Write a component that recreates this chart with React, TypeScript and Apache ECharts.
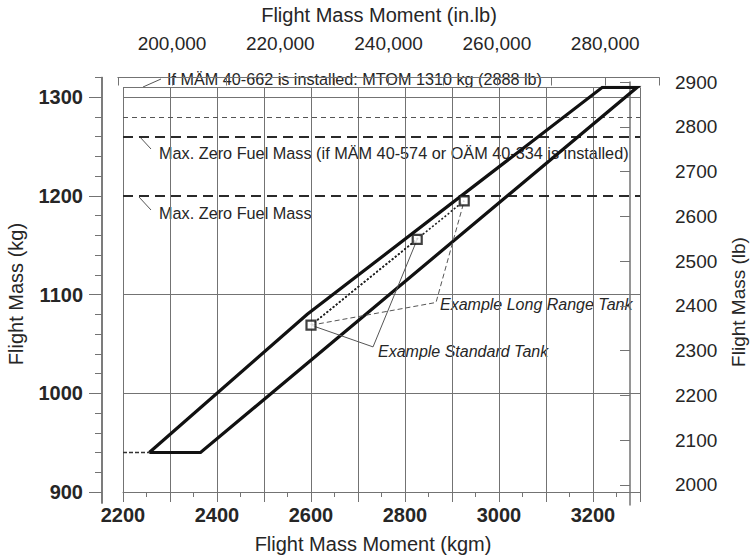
import React, { useEffect, useRef } from "react";
import * as echarts from "echarts";

// ---- data (kg, kg·m) ----
const envelopeMoment = [2256, 2365, 3294, 3220, 2592, 2256];
const envelopeMass = [940, 940, 1310, 1310, 1080, 940];
const exampleMoment = [2600, 2826, 2926];
const exampleMass = [1069, 1156, 1195];
const standardLeaderMoment = [2600, 2732, 2826];
const standardLeaderMass = [1069, 1047, 1156];
const longRangeLeaderMoment = [2600, 2866, 2926];
const longRangeLeaderMass = [1069, 1092, 1195];
const minMassMoment = [2200, 2256];
const minMassMass = [940, 940];
const solidGridMass = [1000, 1100, 1300, 1310];
const zeroFuelMass = [1200, 1260];
const altMtomMass = [1280];

// ---- tick labels ----
const kgmLabels = [2200, 2400, 2600, 2800, 3000, 3200];
const kgMajor = [900, 1000, 1100, 1200, 1300];
const kgMinor = [920, 940, 960, 980, 1020, 1040, 1060, 1080, 1120, 1140, 1160, 1180, 1220, 1240, 1260, 1280, 1320];
const lbTicks = [2000, 2100, 2200, 2300, 2400, 2500, 2600, 2700, 2800, 2900];
const inlbLabels = [200000, 220000, 240000, 260000, 280000];

const FONT = "'Liberation Sans', Arial, Helvetica, sans-serif";
const TXT = "#262626";
const GRID = "#737373";

const pts = (xs: number[], ys: number[]) => xs.map((x, i) => [x, ys[i]]);
const commas = (v: number) => String(v).replace(/\B(?=(\d{3})+(?!\d))/g, ",");
const plain = (v: number) => String(v);

function txt(text: string, x: number, y: number, size: number, opts: any = {}) {
  return {
    type: "text",
    x,
    y,
    rotation: opts.rotation || 0,
    style: {
      text,
      x: 0,
      y: 0,
      fill: TXT,
      font: `${opts.italic ? "italic " : ""}${opts.bold ? "bold " : ""}${size}px ${FONT}`,
      align: opts.align || "left",
      textAlign: opts.align || "left",
      verticalAlign: "middle",
      textVerticalAlign: "middle",
    },
  };
}

function leader(x1: number, y1: number, x2: number, y2: number) {
  return { type: "line", shape: { x1, y1, x2, y2 }, style: { stroke: "#555", lineWidth: 1 } };
}

export default function App() {
  const ref = useRef<HTMLDivElement>(null);
  useEffect(() => {
    if (!ref.current) return;
    const chart = echarts.init(ref.current, null, { renderer: "svg" });
    const markLineData = [
      ...solidGridMass.map((v) => ({ yAxis: v, lineStyle: { type: "solid", color: GRID, width: 1 } })),
      ...zeroFuelMass.map((v) => ({ yAxis: v, lineStyle: { type: [10, 6], color: "#2a2a2a", width: 2 } })),
      ...altMtomMass.map((v) => ({ yAxis: v, lineStyle: { type: [5, 4], color: "#555", width: 1 } })),
    ];
    const axisColor = { lineStyle: { color: GRID, width: 1 } };
    const option: any = {
      animation: false,
      backgroundColor: "#fff",
      grid: [
        { left: 123, right: 113, top: 87.3, bottom: 63, containLabel: false, outerBoundsMode: "none" },
        { left: 102, width: 10, top: 77.4, bottom: 52.1, containLabel: false, outerBoundsMode: "none" },
        { left: 630, right: 90, top: 82, bottom: 50, containLabel: false, outerBoundsMode: "none" },
        { left: 117.85, right: 93.65, top: 57.5, height: 20, containLabel: false, outerBoundsMode: "none" },
      ],
      xAxis: [
        {
          type: "value", gridIndex: 0, position: "bottom", min: 2200, max: 3300, interval: 100,
          axisLine: { show: true, ...axisColor },
          axisTick: { show: true, length: 10, ...axisColor },
          minorTick: { show: true, splitNumber: 2, length: 5, ...axisColor },
          axisLabel: { customValues: kgmLabels, formatter: plain, margin: 13, fontSize: 20, fontWeight: "bold", color: TXT, fontFamily: FONT },
          splitLine: { show: true, ...axisColor },
        },
        { type: "value", gridIndex: 1, show: false, min: 0, max: 1 },
        { type: "value", gridIndex: 2, show: false, min: 0, max: 1 },
        {
          type: "value", gridIndex: 3, position: "top", min: 190000, max: 290000, interval: 10000,
          axisLine: { show: true, ...axisColor },
          axisTick: { show: true, inside: true, length: 8, ...axisColor },
          axisLabel: { customValues: inlbLabels, formatter: (v: number) => commas(v), margin: 5, fontSize: 19, color: TXT, fontFamily: FONT },
          splitLine: { show: false },
        },
      ],
      yAxis: [
        { type: "value", gridIndex: 0, min: 900, max: 1310, show: false },
        {
          type: "value", gridIndex: 1, position: "left", min: 889, max: 1320,
          axisLine: { show: true, lineStyle: { color: GRID, width: 1.5 } },
          axisTick: { show: true, customValues: kgMajor, length: 13, ...axisColor },
          axisLabel: { customValues: kgMajor, formatter: plain, margin: 19, fontSize: 20, fontWeight: "bold", color: TXT, fontFamily: FONT },
          splitLine: { show: false },
        },
        {
          type: "value", gridIndex: 1, position: "left", min: 889, max: 1320,
          axisLine: { show: true, lineStyle: { color: GRID, width: 1.5 } },
          axisTick: { show: true, customValues: kgMinor, length: 7, ...axisColor },
          axisLabel: { show: false },
          splitLine: { show: false },
        },
        {
          type: "value", gridIndex: 2, position: "right", min: 1955, max: 2900,
          axisLine: { show: true, lineStyle: { color: GRID, width: 1.5 } },
          axisTick: { show: true, inside: true, customValues: lbTicks, length: 10, ...axisColor },
          axisLabel: { customValues: lbTicks, formatter: plain, margin: 12, fontSize: 19, color: TXT, fontFamily: FONT },
          splitLine: { show: false },
        },
        { type: "value", gridIndex: 3, show: false, min: 0, max: 1 },
      ],
      series: [
        {
          name: "envelope", type: "line", xAxisIndex: 0, yAxisIndex: 0, z: 5,
          data: pts(envelopeMoment, envelopeMass), symbol: "none",
          lineStyle: { color: "#111", width: 3.2, join: "miter" },
          markLine: { silent: true, symbol: ["none", "none"], label: { show: false }, data: markLineData, z: 3 },
        },
        {
          name: "minMass", type: "line", xAxisIndex: 0, yAxisIndex: 0, z: 4,
          data: pts(minMassMoment, minMassMass), symbol: "none",
          lineStyle: { color: "#333", width: 1.5, type: [4, 2] },
        },
        {
          name: "standardTank", type: "line", xAxisIndex: 0, yAxisIndex: 0, z: 6,
          data: [[exampleMoment[0], exampleMass[0]], [exampleMoment[1], exampleMass[1]]], symbol: "none",
          lineStyle: { color: "#222", width: 1.6, type: [2, 2] },
        },
        {
          name: "longRangeTank", type: "line", xAxisIndex: 0, yAxisIndex: 0, z: 6,
          data: [[exampleMoment[0], exampleMass[0]], [exampleMoment[2], exampleMass[2]]], symbol: "none",
          lineStyle: { color: "#222", width: 1.6, type: [2, 2] },
        },
        {
          name: "standardLeader", type: "line", xAxisIndex: 0, yAxisIndex: 0, z: 6,
          data: pts(standardLeaderMoment, standardLeaderMass), symbol: "none",
          lineStyle: { color: "#555", width: 1 },
        },
        {
          name: "longRangeLeader", type: "line", xAxisIndex: 0, yAxisIndex: 0, z: 6,
          data: pts(longRangeLeaderMoment, longRangeLeaderMass), symbol: "none",
          lineStyle: { color: "#555", width: 1, type: [5, 3] },
        },
        {
          name: "examples", type: "scatter", xAxisIndex: 0, yAxisIndex: 0, z: 8,
          data: pts(exampleMoment, exampleMass), symbol: "rect", symbolSize: 9,
          itemStyle: { color: "#fff", borderColor: "#111", borderWidth: 2.2 },
        },
      ],
      graphic: [
        txt("Flight Mass Moment (in.lb)", 379, 15, 20, { align: "center" }),
        txt("Flight Mass Moment (kgm)", 373, 544, 20, { align: "center" }),
        txt("Flight Mass (kg)", 16, 294, 20, { align: "center", rotation: Math.PI / 2 }),
        txt("Flight Mass (lb)", 738, 302, 19, { align: "center", rotation: Math.PI / 2 }),
        txt("If MÄM 40-662 is installed: MTOM 1310 kg (2888 lb)", 167, 79, 16.2),
        leader(143, 87, 161, 79),
        txt("Max. Zero Fuel Mass (if MÄM 40-574 or OÄM 40-334 is installed)", 159, 153, 16.25),
        leader(139, 136, 151, 149),
        txt("Max. Zero Fuel Mass", 159, 213, 16.25),
        leader(139, 197, 151, 210),
        txt("Example Long Range Tank", 440, 304, 16, { italic: true }),
        txt("Example Standard Tank", 378, 351, 16, { italic: true }),
      ],
    };
    chart.setOption(option);
    return () => chart.dispose();
  }, []);
  return (
    <div
      ref={ref}
      style={{ position: "absolute", left: 0, top: 0, width: 753, height: 555, background: "#fff" }}
    />
  );
}
